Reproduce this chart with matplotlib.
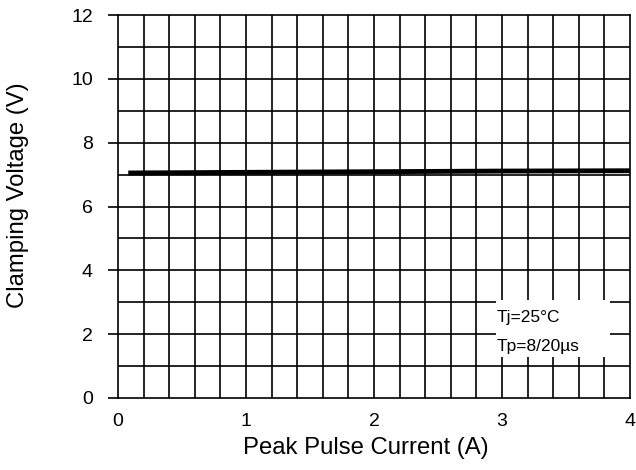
import matplotlib
matplotlib.use("Agg")
import matplotlib.pyplot as plt
import numpy as np
from matplotlib.patches import Rectangle

plt.rcParams['font.family'] = ['Liberation Sans', 'DejaVu Sans']

# Data
current = [0.08, 1.0, 2.0, 3.0, 4.0]
voltage = [7.05, 7.07, 7.09, 7.11, 7.12]
x_ticks = [0, 1, 2, 3, 4]
y_ticks = [0, 2, 4, 6, 8, 10, 12]
annot_lines = ["Tj=25°C", "Tp=8/20µs"]

fig = plt.figure(figsize=(6.36, 4.70), dpi=100)
ax = fig.add_axes([118/636, 1-398/470, (630-118)/636, (398-15)/470])

ax.set_xlim(0, 4)
ax.set_ylim(0, 12)

# grid
for xv in np.arange(0.2, 4.0, 0.2):
    ax.axvline(xv, color='black', lw=1.2, zorder=1)
for yv in np.arange(1, 12, 1):
    ax.axhline(yv, color='black', lw=1.2, zorder=1)

for s in ax.spines.values():
    s.set_linewidth(1.2)
    s.set_color('black')

# annotation box
ax.add_patch(Rectangle((2.95, 1.29), 0.89, 1.78, facecolor='white', edgecolor='none', zorder=2))
ax.text(2.96, 2.52, annot_lines[0], fontsize=12.5, va='center', ha='left', zorder=3)
ax.text(2.96, 1.60, annot_lines[1], fontsize=12.5, va='center', ha='left', zorder=3)

ax.plot(current, voltage, color='black', lw=3.5, zorder=4, solid_capstyle='butt')

ax.set_xticks(x_ticks)
ax.set_yticks(y_ticks)
ax.tick_params(axis='x', length=0, pad=11, labelsize=14)
ax.tick_params(axis='y', length=7, width=1.2, pad=11, labelsize=14)

ax.set_xlabel("Peak Pulse Current (A)", fontsize=17.2, va='center')
ax.xaxis.set_label_coords(0.484, -0.130)
ax.set_ylabel("Clamping Voltage (V)", fontsize=17.2, va='center')
ax.yaxis.set_label_coords(-0.195, 0.530)

fig.savefig("out.png", dpi=100)
